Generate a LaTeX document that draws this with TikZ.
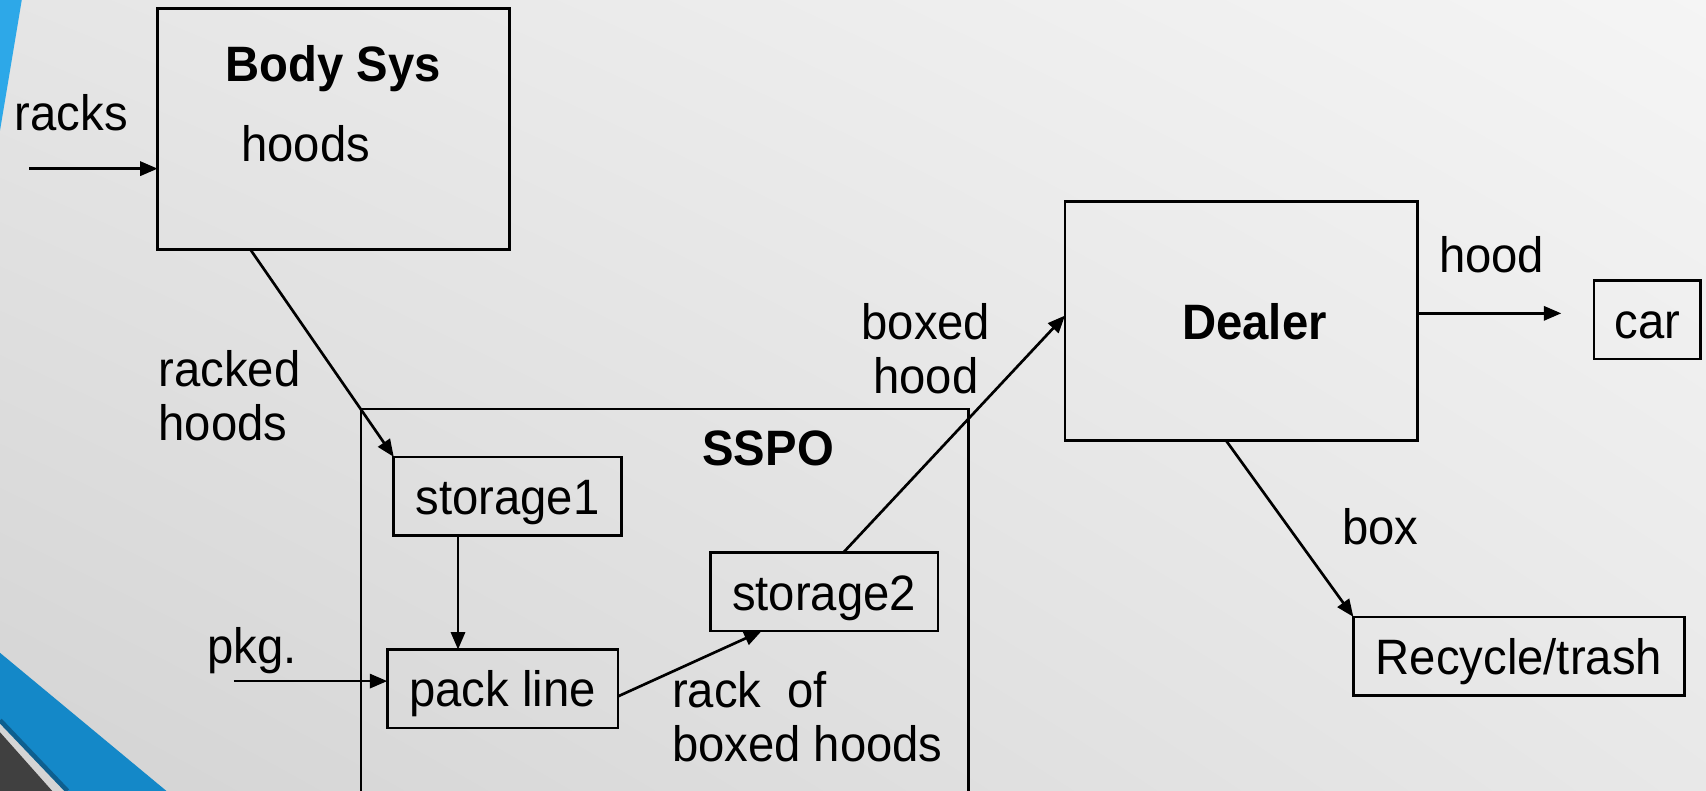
\documentclass[tikz,border=0pt]{standalone}
\usepackage{fontspec}
\setmainfont{Liberation Sans}[FakeStretch = 0.95]
\usetikzlibrary{arrows.meta,%
                shadings,positioning}
\definecolor{skyblue}{RGB}{45,168,232}
\definecolor{slideblue}{RGB}{20,136,200}
\definecolor{deepblue}{RGB}{14,95,143}
\definecolor{slidegray}{RGB}{64,64,64}

\begin{document}
\begin{tikzpicture}[x = 0.01cm, y = 0.01cm]
  \tikzset{BoxStyle/.style   = {draw,
                                line width     = 0.7pt,
                                inner sep      = 0pt,
                                outer sep      = 0pt,
                                text height    = 10pt,
                                text depth     = 0.5pt,
                                font           = \fontsize{13}{14.2}\selectfont}}
  \tikzset{EdgeStyle/.style  = {line width     = 0.7pt,
                                -{Triangle[length = 1.6mm, width = 1.3mm]}}}
  \tikzset{LabelStyle/.style = {inner sep      = 0pt,
                                anchor         = base west,
                                font           = \fontsize{13}{14.2}\selectfont}}
  \tikzset{TitleStyle/.style = {LabelStyle,
                                anchor         = base,
                                font           = \fontsize{13}{14.2}\selectfont\bfseries}}
  % slide background
  \clip (0,0) rectangle (1568,-727);
  \shade[upper left  = black!10, upper right = black!4,
         lower left  = black!17, lower right = black!9] (0,0) rectangle (1568,-727);
  \fill[skyblue]   (0,0) -- (20,0) -- (0,-120) -- cycle;
  \fill[slideblue] (0,-600) -- (153,-727) -- (62,-727) -- (0,-662) -- cycle;
  \draw[deepblue, line width = 1.2pt] (0,-662) -- (62,-727);
  \fill[slidegray] (0,-673) -- (48,-727) -- (0,-727) -- cycle;
     % boxes
     \node[BoxStyle, minimum width = 3.23cm, minimum height = 2.21cm] (BodySys) at (306.5,-118.5) {};
     \node[BoxStyle, minimum width = 5.58cm, minimum height = 4.24cm] (SSPO) at (611,-588) {};
     \node[BoxStyle, minimum width = 2.09cm, minimum height = 0.72cm] (Storage1) at (466.5,-456) {storage1};
     \node[BoxStyle, minimum width = 2.12cm, minimum height = 0.72cm] (PackLine) at (462,-633) {pack line};
     \node[BoxStyle, minimum width = 2.09cm, minimum height = 0.72cm] (Storage2) at (757.5,-544) {storage2};
     \node[BoxStyle, minimum width = 3.24cm, minimum height = 2.20cm] (Dealer) at (1141,-295) {};
     \node[BoxStyle, minimum width = 0.98cm, minimum height = 0.72cm] (Car) at (1514,-294) {car};
     \node[BoxStyle, minimum width = 3.04cm, minimum height = 0.72cm] (Recycle) at (1396,-603) {Recycle/trash};
     % titles and labels
     \node[TitleStyle] (BodySysTitle) at (306,-75) {Body Sys};
     \node[TitleStyle] (SSPOTitle) at (706,-428) {SSPO};
     \node[TitleStyle] (DealerTitle) at (1153,-312) {Dealer};
     \node[LabelStyle] (HoodsLabel) at (221,-148) {hoods};
     \node[LabelStyle] (RacksLabel) at (13,-120) {racks};
     \node[LabelStyle, align = left] (RackedLabel) at (145,-405) {racked\\hoods};
     \node[LabelStyle] (PkgLabel) at (190,-610) {pkg.};
     \node[LabelStyle, align = left] (RackOfLabel) at (617,-700) {rack\ \ of\\boxed hoods};
     \node[LabelStyle, align = center, anchor = base] (BoxedLabel) at (851,-362) {boxed\\hood};
     \node[LabelStyle] (HoodLabel) at (1322,-250) {hood};
     \node[LabelStyle] (BoxLabel) at (1233,-500) {box};
     % connectors
     \coordinate (RacksIn) at (27,-155);
     \coordinate (PkgIn) at (215,-626);
     \coordinate (CarIn) at (1435,-288);
     \draw[EdgeStyle] (RacksIn) -- (RacksIn -| BodySys.west);
     \draw[EdgeStyle] ([xshift = 0.85cm]BodySys.south west) -- (Storage1.north west);
     \draw[EdgeStyle] ([xshift = -0.455cm]Storage1.south) -- ([xshift = -0.455cm]Storage1.south |- PackLine.north);
     \draw[EdgeStyle] (PkgIn) -- (PkgIn -| PackLine.west);
     \draw[EdgeStyle] ([yshift = -0.07cm]PackLine.east) -- ([xshift = -0.575cm]Storage2.south);
     \draw[EdgeStyle] ([xshift = 0.175cm]Storage2.north) -- ([yshift = 0.05cm]Dealer.west);
     \draw[EdgeStyle] (CarIn -| Dealer.east) -- (CarIn);
     \draw[EdgeStyle] ([xshift = -0.14cm]Dealer.south) -- (Recycle.north west);
\end{tikzpicture}
\end{document}
